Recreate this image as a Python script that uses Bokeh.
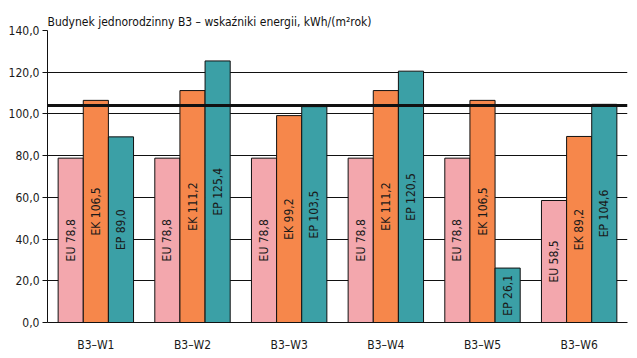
from math import pi

from bokeh.core.properties import value
from bokeh.embed import file_html
from bokeh.models import (ColumnDataSource, CustomJSTickFormatter, FactorRange,
                          FixedTicker, Span)
from bokeh.plotting import figure
from bokeh.resources import INLINE
from bokeh.transform import dodge

# Building variants and energy indicators, kWh/(m²rok)
variants = ["B3\u2013W1", "B3\u2013W2", "B3\u2013W3", "B3\u2013W4", "B3\u2013W5", "B3\u2013W6"]
eu = [78.8, 78.8, 78.8, 78.8, 78.8, 58.5]
ek = [106.5, 111.2, 99.2, 111.2, 106.5, 89.2]
ep = [89.0, 125.4, 103.5, 120.5, 26.1, 104.6]
limit_value = 104.0
y_ticks = [0, 20, 40, 60, 80, 100, 120, 140]

FONT = "DejaVu Sans Condensed"
series = [("EU", eu, "#F3A7AD", -0.26),
          ("EK", ek, "#F6874B", 0.0),
          ("EP", ep, "#3BA0A6", 0.26)]

p = figure(x_range=FactorRange(*variants), y_range=(0, 140),
           width=637, height=358, output_backend="svg", toolbar_location=None,
           min_border_left=47, min_border_right=10, min_border_bottom=36,
           min_border_top=30)

p.title.text = "Budynek jednorodzinny B3 \u2013 wska\u017aniki energii, kWh/(m\u00b2rok)"
p.title.align = "left"
p.title.text_font = FONT
p.title.text_font_size = "12px"
p.title.text_font_style = "normal"
p.title.text_color = "#111111"
p.title.standoff = 4

p.outline_line_color = None
p.background_fill_color = "white"
p.border_fill_color = "white"

# horizontal gridlines behind the bars
p.xgrid.grid_line_color = None
p.ygrid.grid_line_color = "#111111"
p.ygrid.grid_line_width = 1
p.ygrid.ticker = FixedTicker(ticks=y_ticks)

for name, vals, color, off in series:
    src = ColumnDataSource(dict(
        x=variants,
        top=vals,
        mid=[v / 2 for v in vals],
        label=[f"{name} {v:.1f}".replace(".", ",") for v in vals],
    ))
    p.vbar(x=dodge("x", off, range=p.x_range), top="top", width=0.26,
           source=src, fill_color=color, line_color="#111111", line_width=1)
    p.text(x=dodge("x", off, range=p.x_range), y="mid", text="label",
           source=src, angle=pi / 2, text_align="center",
           text_baseline="middle", text_font=value(FONT),
           text_font_size="12px", text_color="#1a1a1a")

# reference level
p.add_layout(Span(location=limit_value, dimension="width",
                  line_color="#111111", line_width=3, level="overlay"))

# y axis
p.yaxis.ticker = FixedTicker(ticks=y_ticks)
p.yaxis.formatter = CustomJSTickFormatter(
    code="return tick.toFixed(1).replace('.', ',');")
p.yaxis.major_tick_out = 5
p.yaxis.major_tick_in = 0
p.yaxis.minor_tick_line_color = None
p.yaxis.axis_line_color = "#111111"
p.yaxis.major_tick_line_color = "#111111"
p.yaxis.major_label_text_font = FONT
p.yaxis.major_label_text_font_size = "12px"
p.yaxis.major_label_text_color = "#1a1a1a"
p.yaxis.major_label_standoff = 3

# x axis
p.xaxis.major_tick_line_color = None
p.xaxis.minor_tick_line_color = None
p.xaxis.axis_line_color = "#111111"
p.xaxis.major_label_text_font = FONT
p.xaxis.major_label_text_font_size = "12px"
p.xaxis.major_label_text_color = "#1a1a1a"
p.xaxis.major_label_standoff = 9

open("out.html", "w").write(file_html(p, INLINE))
